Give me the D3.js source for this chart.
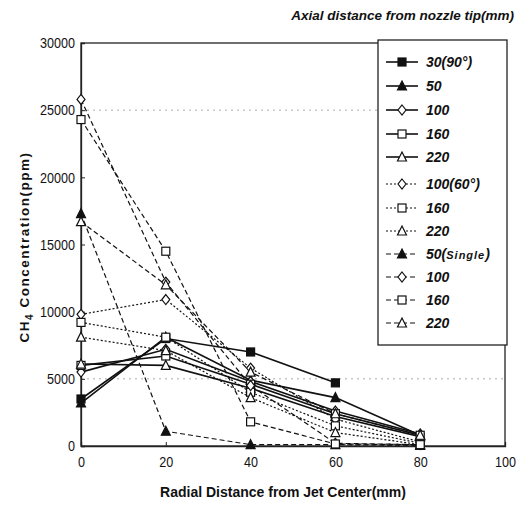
<!DOCTYPE html>
<html><head><meta charset="utf-8">
<script src="https://cdn.jsdelivr.net/npm/d3@7"></script>
<style>body{margin:0;background:#fff}</style>
</head><body>
<svg id="c" width="521" height="508"></svg>
<script>
const xValues = [0, 20, 40, 60, 80];
const xTicks = [0, 20, 40, 60, 80, 100];
const yTicks = [0, 5000, 10000, 15000, 20000, 25000, 30000];
const gridValues = [5000, 25000];
const seriesNames = ["30(90°)", "50", "100", "160", "220", "100(60°)", "160", "220", "50(Single)", "100", "160", "220"];
const seriesGroups = ["90", "90", "90", "90", "90", "60", "60", "60", "single", "single", "single", "single"];
const seriesMarkers = ["squareF", "triF", "diamond", "square", "tri", "diamond", "square", "tri", "triF", "diamond", "square", "tri"];
const s30_90 = [3500, 8000, 7000, 4700];
const s50_90 = [3200, 8100, 4900, 3600, 800];
const s100_90 = [5500, 7200, 4800, 2600, 900];
const s160_90 = [6000, 6700, 4600, 2400, 800];
const s220_90 = [6100, 6000, 4300, 2200, 700];
const s100_60 = [9800, 10900, 5800, 2000, 300];
const s160_60 = [9200, 8100, 4000, 1500, 200];
const s220_60 = [8100, 7100, 3600, 1000, 100];
const s50_single = [17300, 1100, 100, 100, 50];
const s100_single = [25800, 12200, 4500, 200, 100];
const s160_single = [24300, 14500, 1800, 150, 100];
const s220_single = [16700, 12000, 5500, 2400, 800];
const seriesValues = [s30_90, s50_90, s100_90, s160_90, s220_90, s100_60, s160_60, s220_60, s50_single, s100_single, s160_single, s220_single];

const svg = d3.select("#c");
const L = 81, R = 505, T = 43, B = 446;
const x = d3.scaleLinear().domain([0, 100]).range([L, R]);
const y = d3.scaleLinear().domain([0, 30000]).range([B, T]);
const tickFont = "'Liberation Sans','Arial',sans-serif";

// grid
svg.append("g").selectAll("line").data(gridValues).join("line")
  .attr("x1", L).attr("x2", R).attr("y1", d => y(d)).attr("y2", d => y(d))
  .attr("stroke", "#aaa").attr("stroke-width", 1).attr("stroke-dasharray", "2,4");

// frame
svg.append("rect").attr("x", L).attr("y", T).attr("width", R - L).attr("height", B - T)
  .attr("fill", "none").attr("stroke", "#222").attr("stroke-width", 1.3);

// axes
const xAxis = svg.append("g").attr("transform", `translate(0,${B})`)
  .call(d3.axisBottom(x).tickValues(xTicks).tickSize(-4).tickPadding(10).tickFormat(d3.format("d")));
const yAxis = svg.append("g").attr("transform", `translate(${L},0)`)
  .call(d3.axisLeft(y).tickValues(yTicks).tickSize(-4).tickPadding(6).tickFormat(d3.format("d")));
[xAxis, yAxis].forEach(a => {
  a.select(".domain").attr("stroke", "#222").attr("stroke-width", 1.3);
  a.selectAll(".tick line").attr("stroke", "#222");
  a.selectAll("text").attr("font-family", tickFont).attr("font-size", 15).attr("fill", "#111")
    .attr("lengthAdjust", "spacingAndGlyphs")
    .attr("textLength", function () { return this.textContent.length * 7; });
});

// symbols
function drawMarker(g, type, cx, cy) {
  const s = 4;
  if (type === "squareF" || type === "square") {
    g.append("rect").attr("x", cx - s).attr("y", cy - s).attr("width", 2 * s).attr("height", 2 * s)
      .attr("fill", type === "squareF" ? "#111" : "#fff").attr("stroke", "#111").attr("stroke-width", 1.2);
  } else if (type === "triF" || type === "tri") {
    g.append("path").attr("d", `M${cx},${cy - s - 1}L${cx + s + 0.5},${cy + s}L${cx - s - 0.5},${cy + s}Z`)
      .attr("fill", type === "triF" ? "#111" : "#fff").attr("stroke", "#111").attr("stroke-width", 1.2);
  } else {
    g.append("path").attr("d", `M${cx},${cy - s - 1}L${cx + s},${cy}L${cx},${cy + s + 1}L${cx - s},${cy}Z`)
      .attr("fill", "#fff").attr("stroke", "#111").attr("stroke-width", 1.2);
  }
}
const dashOf = g => g === "90" ? null : (g === "60" ? "2,2" : "5,3");
const widthOf = g => g === "90" ? 1.6 : 1.2;

const line = d3.line().defined(d => d[1] != null).x(d => x(d[0])).y(d => y(d[1]));
const plot = svg.append("g");
seriesValues.forEach((vals, i) => {
  const pts = vals.map((v, j) => [xValues[j], v]);
  plot.append("path").datum(pts).attr("d", line).attr("fill", "none")
    .attr("stroke", "#111").attr("stroke-width", widthOf(seriesGroups[i]))
    .attr("stroke-dasharray", dashOf(seriesGroups[i]));
});
seriesValues.forEach((vals, i) => {
  const g = plot.append("g");
  vals.forEach((v, j) => drawMarker(g, seriesMarkers[i], x(xValues[j]), y(v)));
});

// legend
const lg = svg.append("g");
lg.append("rect").attr("x", 378).attr("y", 40).attr("width", 129).attr("height", 305)
  .attr("fill", "#fff").attr("stroke", "#222").attr("stroke-width", 1.3);
const legY = [62, 86, 110, 134, 157, 184, 208, 231, 254, 277, 300, 323];
seriesNames.forEach((n, i) => {
  const yy = legY[i];
  lg.append("line").attr("x1", 386).attr("x2", 418).attr("y1", yy).attr("y2", yy)
    .attr("stroke", "#111").attr("stroke-width", widthOf(seriesGroups[i]))
    .attr("stroke-dasharray", dashOf(seriesGroups[i]));
  drawMarker(lg, seriesMarkers[i], 402, yy);
  const t = lg.append("text").attr("x", 426).attr("y", yy + 5)
    .attr("font-family", "Arial, 'Liberation Sans', sans-serif").attr("font-size", 14)
    .attr("font-weight", "bold").attr("font-style", "italic").attr("fill", "#111");
  const m = n.match(/^(\d+)\((.*)\)$/);
  if (m && m[2] === "Single") {
    t.append("tspan").text(m[1] + "(");
    t.append("tspan").attr("font-size", 11).attr("letter-spacing", 1).text("Single");
    t.append("tspan").text(")");
  } else {
    t.text(n);
  }
});

// titles
svg.append("text").attr("x", 514).attr("y", 20).attr("text-anchor", "end")
  .attr("font-family", "Arial, 'Liberation Sans', sans-serif").attr("font-size", 13.5)
  .attr("font-weight", "bold").attr("font-style", "italic").attr("fill", "#111")
  .text("Axial distance from nozzle tip(mm)");
svg.append("text").attr("x", 283).attr("y", 497).attr("text-anchor", "middle")
  .attr("font-family", "Arial, 'Liberation Sans', sans-serif").attr("font-size", 14)
  .attr("font-weight", "bold").attr("fill", "#111")
  .text("Radial Distance from Jet Center(mm)");
const yl = svg.append("text").attr("transform", "translate(29,247) rotate(-90)").attr("text-anchor", "middle")
  .attr("font-family", "Arial, 'Liberation Sans', sans-serif").attr("font-size", 13.5)
  .attr("font-weight", "bold").attr("letter-spacing", 1.5).attr("fill", "#111");
yl.append("tspan").text("CH");
yl.append("tspan").attr("font-size", 10).attr("dy", 4).text("4");
yl.append("tspan").attr("dy", -4).text(" Concentration(ppm)");
</script>
</body></html>
